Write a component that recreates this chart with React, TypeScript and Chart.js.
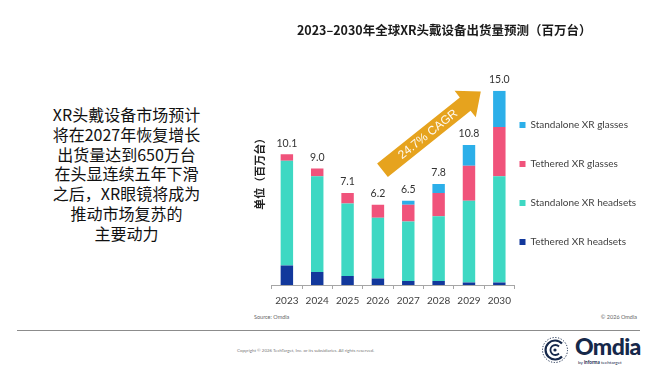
import React, { useEffect, useRef } from "react";
import { Chart, registerables } from "chart.js";

Chart.register(...registerables);

// ---- data ----
const YEARS = ["2023", "2024", "2025", "2026", "2027", "2028", "2029", "2030"];
const TETHERED_HEADSETS = [1.5, 1.0, 0.7, 0.5, 0.3, 0.3, 0.2, 0.2];
const STANDALONE_HEADSETS = [8.1, 7.4, 5.6, 4.7, 4.6, 5.0, 6.3, 8.2];
const TETHERED_GLASSES = [0.5, 0.6, 0.8, 1.0, 1.3, 1.8, 2.7, 3.8];
const STANDALONE_GLASSES = [0, 0, 0, 0, 0.3, 0.7, 1.6, 2.8];
const SERIES_NAMES = [
  "Tethered XR headsets",
  "Standalone XR headsets",
  "Tethered XR glasses",
  "Standalone XR glasses",
];
const CAGR_LABEL = "24.7% CAGR";
const CHART_TITLE = "2023–2030年全球XR头戴设备出货量预测（百万台）";
const Y_TITLE = "单位（百万台）";
const SIDE_TEXT = [
  "XR头戴设备市场预计",
  "将在2027年恢复增长",
  "出货量达到650万台",
  "在头显连续五年下滑",
  "之后，XR眼镜将成为",
  "推动市场复苏的",
  "主要动力",
];

// arrow annotation anchors (category index, value)
const ARROW_TAIL = { index: 3.15, value: 8.86 };
const ARROW_TIP = { index: 6.39, value: 14.93 };

const COLORS = ["#12389c", "#3ed8c3", "#f0537b", "#2cafe9"];

const totalsPlugin = {
  id: "totals",
  afterDatasetsDraw(chart: any) {
    const { ctx, scales } = chart;
    const xs = scales.x;
    const ys = scales.y;
    ctx.save();
    ctx.font = "10.5px Lato";
    ctx.fillStyle = "#333333";
    ctx.textAlign = "center";
    ctx.textBaseline = "middle";
    YEARS.forEach((_, i) => {
      let sum = 0;
      chart.data.datasets.forEach((ds: any) => (sum += ds.data[i]));
      const px = xs.getPixelForValue(i);
      const py = ys.getPixelForValue(sum);
      ctx.fillText(sum.toFixed(1), px, py - 11);
    });
    ctx.restore();
  },
};

const arrowPlugin = {
  id: "cagrArrow",
  afterDatasetsDraw(chart: any) {
    const { ctx, scales } = chart;
    const xs = scales.x;
    const ys = scales.y;
    const x0 = xs.getPixelForValue(ARROW_TAIL.index);
    const y0 = ys.getPixelForValue(ARROW_TAIL.value);
    const x1 = xs.getPixelForValue(ARROW_TIP.index);
    const y1 = ys.getPixelForValue(ARROW_TIP.value);
    const ang = Math.atan2(y1 - y0, x1 - x0);
    const len = Math.hypot(x1 - x0, y1 - y0);
    const sw = 8.6;
    const hl = 20;
    const hw = 17;
    ctx.save();
    ctx.translate(x0, y0);
    ctx.rotate(ang);
    ctx.beginPath();
    ctx.moveTo(0, -sw);
    ctx.lineTo(len - hl, -sw);
    ctx.lineTo(len - hl, -hw);
    ctx.lineTo(len, 0);
    ctx.lineTo(len - hl, hw);
    ctx.lineTo(len - hl, sw);
    ctx.lineTo(0, sw);
    ctx.closePath();
    ctx.fillStyle = "#e6a31e";
    ctx.fill();
    ctx.fillStyle = "rgba(255,255,255,0.95)";
    ctx.font = '12px "Liberation Sans"';
    ctx.textAlign = "center";
    ctx.textBaseline = "middle";
    ctx.fillText(CAGR_LABEL, len * 0.46, 0.5);
    ctx.restore();
  },
};

function ChartCanvas() {
  const ref = useRef<HTMLCanvasElement | null>(null);
  useEffect(() => {
    if (!ref.current) return;
    const seriesData = [TETHERED_HEADSETS, STANDALONE_HEADSETS, TETHERED_GLASSES, STANDALONE_GLASSES];
    const chart = new Chart(ref.current, {
      type: "bar",
      data: {
        labels: YEARS,
        datasets: seriesData.map((d, i) => ({
          label: SERIES_NAMES[i],
          data: d,
          backgroundColor: COLORS[i],
          borderWidth: 0,
          barPercentage: 0.5,
          categoryPercentage: 0.82,
        })),
      },
      options: {
        responsive: false,
        maintainAspectRatio: false,
        animation: false,
        devicePixelRatio: 1,
        layout: { padding: { left: 10.5, right: 22, top: 0, bottom: 0.4 } },
        plugins: {
          tooltip: { enabled: false },
          title: {
            display: true,
            text: CHART_TITLE,
            color: "#1a1a1a",
            font: { family: '"Noto Sans CJK SC"', size: 12.5, weight: "bold", lineHeight: 1.2 },
            padding: { top: 23.2, bottom: 52.5 },
          },
          legend: {
            display: true,
            position: "right",
            align: "center",
            fullSize: false,
            reverse: true,
            maxWidth: 123.5,
            title: { display: true, text: "", font: { size: 15.3, lineHeight: 1 }, padding: 0 },
            labels: {
              boxWidth: 6,
              boxHeight: 6,
              padding: 5,
              color: "#404040",
              font: { family: "Lato", size: 10, lineHeight: 1.134 },
              generateLabels(c: any) {
                const items = Chart.defaults.plugins.legend.labels.generateLabels(c);
                return items.map((it: any) => ({ ...it, text: [it.text, "", ""], lineWidth: 0 }));
              },
            },
          },
        },
        scales: {
          x: {
            stacked: true,
            grid: {
              display: true,
              drawOnChartArea: false,
              drawTicks: true,
              tickLength: 4,
              offset: true,
              color: "#a6a6a6",
            },
            border: { display: true, color: "#a6a6a6" },
            ticks: { color: "#404040", font: { family: "Lato", size: 10, lineHeight: 1.26 }, padding: 5, maxRotation: 0 },
          },
          y: {
            stacked: true,
            min: 0,
            max: 15,
            grid: { display: false, drawTicks: false },
            border: { display: false },
            ticks: { display: false },
            title: {
              display: true,
              text: "\u3000\u3000\u3000" + Y_TITLE,
              color: "#222222",
              font: { family: '"Noto Sans CJK SC"', size: 11, weight: "bold", lineHeight: 1.2 },
              padding: { top: 3, bottom: 5 },
            },
          },
        },
      },
      plugins: [totalsPlugin, arrowPlugin],
    });
    return () => chart.destroy();
  }, []);
  return (
    <canvas
      ref={ref}
      width={420}
      height={312}
      style={{ position: "absolute", left: 240, top: 0, width: 420, height: 312 }}
    />
  );
}

function Logo() {
  const navy = "#16284a";
  return (
    <div style={{ position: "absolute", left: 541, top: 334, width: 100, height: 34 }}>
      <svg width="28" height="28" viewBox="0 0 28 28" style={{ position: "absolute", left: 0, top: 2 }}>
        <circle cx="14" cy="14" r="12.5" fill="none" stroke={navy} strokeWidth="1" strokeDasharray="1.2 1.6" />
        <path d="M 21 7.5 A 9.5 9.5 0 1 0 21 20.5" fill="none" stroke={navy} strokeWidth="2.2" />
        <path d="M 18 10.5 A 5 5 0 1 0 18 17.5" fill="none" stroke={navy} strokeWidth="1.8" />
        <circle cx="14" cy="14" r="1.6" fill={navy} />
      </svg>
      <div
        style={{
          position: "absolute",
          left: 34,
          top: -2,
          fontFamily: "Lato",
          fontWeight: 900,
          fontSize: 23,
          letterSpacing: -0.6,
          color: navy,
          lineHeight: "28px",
        }}
      >
        Omdia
      </div>
      <div
        style={{
          position: "absolute",
          left: 37,
          top: 25,
          fontFamily: "Lato",
          fontSize: 4.6,
          color: navy,
          whiteSpace: "nowrap",
          lineHeight: "6px",
        }}
      >
        by <b>informa</b> techtarget
      </div>
    </div>
  );
}

export default function App() {
  return (
    <div
      style={{
        position: "fixed",
        left: 0,
        top: 0,
        width: 660,
        height: 372,
        background: "#ffffff",
        overflow: "hidden",
      }}
    >
      <div
        style={{
          position: "absolute",
          left: 0,
          top: 105,
          width: 253,
          textAlign: "center",
          fontFamily: '"Noto Sans CJK SC"',
          fontSize: 16,
          lineHeight: "19.8px",
          color: "#111111",
        }}
      >
        {SIDE_TEXT.map((l, i) => (
          <div key={i}>{l}</div>
        ))}
      </div>
      <ChartCanvas />
      <div
        style={{
          position: "absolute",
          left: 254,
          top: 314,
          fontFamily: "Lato",
          fontSize: 5.5,
          color: "#666666",
          lineHeight: "6px",
        }}
      >
        Source: Omdia
      </div>
      <div
        style={{
          position: "absolute",
          right: 23,
          top: 314,
          fontFamily: "Lato",
          fontSize: 5.5,
          color: "#666666",
          lineHeight: "6px",
        }}
      >
        © 2026 Omdia
      </div>
      <div style={{ position: "absolute", left: 17, top: 330, width: 623, height: 1, background: "#8c8c8c" }} />
      <div
        style={{
          position: "absolute",
          left: 237,
          top: 347.5,
          fontFamily: "Lato",
          fontSize: 4.4,
          color: "#777777",
          lineHeight: "5px",
          whiteSpace: "nowrap",
        }}
      >
        Copyright © 2026 TechTarget, Inc. or its subsidiaries. All rights reserved.
      </div>
      <Logo />
    </div>
  );
}
